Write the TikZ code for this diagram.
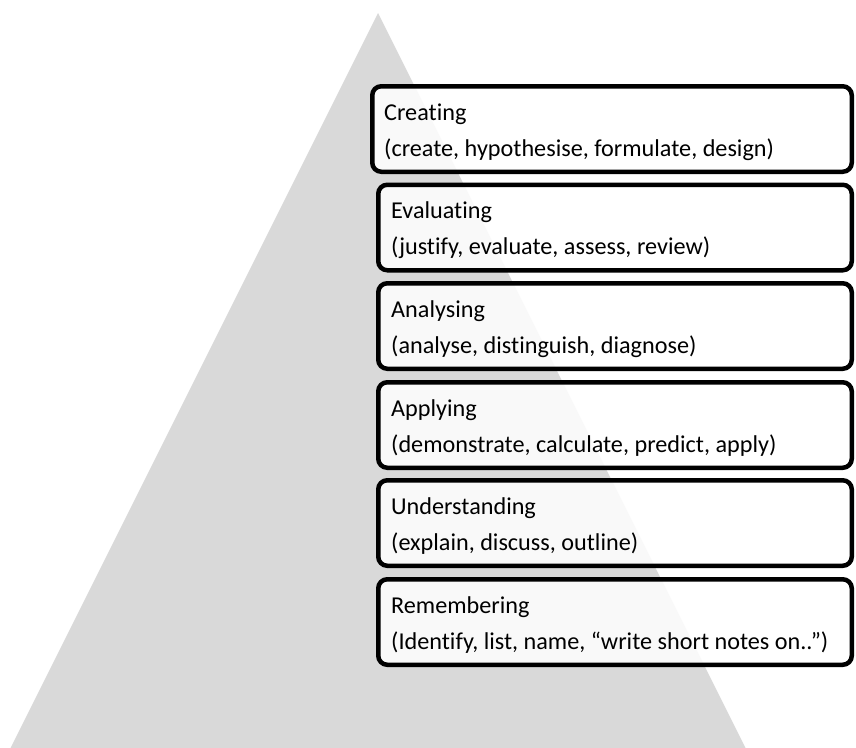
\documentclass[tikz,border=0pt]{standalone}
\usepackage{fontspec}
\setmainfont{Carlito}[Ligatures={NoCommon}]
\definecolor{trigray}{HTML}{D9D9D9}
\begin{document}
\begin{tikzpicture}[x=1pt,y=-1pt,
  stagebox/.style={draw=black, line width=4.5pt, rounded corners=9pt, fill=white, fill opacity=0.85, text opacity=1, minimum height=85.5pt, inner sep=0pt},
  lbl/.style={anchor=base west, font=\fontsize{24.2}{28}\selectfont, inner sep=0pt, text=black}]
\useasboundingbox (0,0) rectangle (856,747);
\fill[trigray] (378,13) -- (-2,773) -- (758,773) -- cycle;
% boxes
\node[stagebox, minimum width=479.5pt] (creating) at (612,129) {};
\node[stagebox, minimum width=473.5pt] (evaluating) at (615,227.5) {};
\node[stagebox, minimum width=473.5pt] (analysing) at (615,326) {};
\node[stagebox, minimum width=473.5pt] (applying) at (615,425) {};
\node[stagebox, minimum width=473.5pt] (understanding) at (615,523) {};
\node[stagebox, minimum width=473.5pt] (remembering) at (615,622) {};
% labels
\node[lbl] (creatingA) at (384,120) {Creating};
\node[lbl] (creatingB) at (384,156) {(create, hypothesise, formulate, design)};
\node[lbl] (evaluatingA) at (391,218.5) {Evaluating};
\node[lbl] (evaluatingB) at (391,254.5) {(justify, evaluate, assess, review)};
\node[lbl] (analysingA) at (391,317) {Analysing};
\node[lbl] (analysingB) at (391,353) {(analyse, distinguish, diagnose)};
\node[lbl] (applyingA) at (391,416) {Applying};
\node[lbl] (applyingB) at (391,452) {(demonstrate, calculate, predict, apply)};
\node[lbl] (understandingA) at (391,514) {Understanding};
\node[lbl] (understandingB) at (391,550) {(explain, discuss, outline)};
\node[lbl] (rememberingA) at (391,613) {Remembering};
\node[lbl] (rememberingB) at (391,649) {(Identify, list, name, “write short notes on..”)};
\end{tikzpicture}
\end{document}
